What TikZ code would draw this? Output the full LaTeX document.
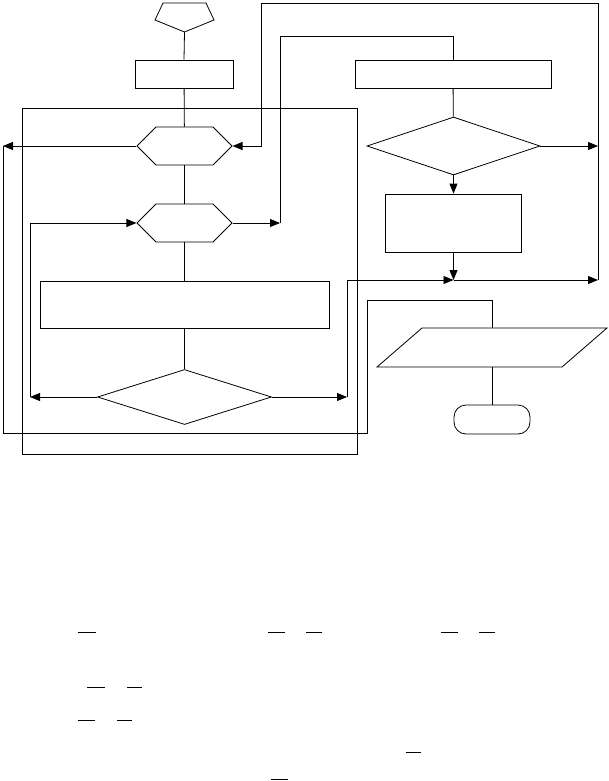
\documentclass[tikz,border=0pt]{standalone}
\usepackage{tikz}
\usetikzlibrary{arrows.meta,shapes.geometric,shapes.symbols,positioning}

\tikzset{
  box/.style={draw, rectangle, inner sep=0pt},
  hexa/.style={draw, signal, signal to=east and west, inner sep=0pt,
    minimum width=95pt, minimum height=38pt},
  dia/.style={draw, diamond, inner sep=0pt},
  term/.style={draw, rectangle, rounded corners=12pt, inner sep=0pt,
    minimum width=76pt, minimum height=29pt},
  arr/.style={-{Triangle[length=10pt,width=8pt]}}
}

\begin{document}
\begin{tikzpicture}[x=1pt,y=-1pt,line width=0.8pt]
  \useasboundingbox (0,0) rectangle (608,781);
  % start
  \draw (163,3) -- (206,3) -- (214,20) -- (184.5,32) -- (155,20) -- cycle;
  \coordinate (start) at (184.5,32);
  % left column
  \node[box, minimum width=98pt, minimum height=28pt] (b1) at (184,74) {};
  \node[hexa] (h1) at (184.5,146) {};
  \node[hexa] (h2) at (184.5,223) {};
  \node[box, minimum width=289pt, minimum height=47pt] (b4) at (184.5,304.5) {};
  \node[dia, minimum width=174pt, minimum height=55pt] (d3) at (184.5,397) {};
  \draw (22,108) rectangle (357,454);
  % right column
  \node[box, minimum width=196pt, minimum height=28pt] (b2) at (453,74) {};
  \node[dia, minimum width=173pt, minimum height=58pt] (d2) at (453.5,146) {};
  \node[box, minimum width=136pt, minimum height=58pt] (b3) at (453.5,223) {};
  \draw (422,328) -- (607,328) -- (562,367) -- (377,367) -- cycle;
  \coordinate (outN) at (492,328);
  \coordinate (outS) at (492,367);
  \node[term] (end) at (492,419.5) {};
  % turning points
  \coordinate (lp1) at (3,146);
  \coordinate (lp2) at (3,433);
  \coordinate (lp3) at (367,300);
  \coordinate (r0) at (598,146);
  \coordinate (r1) at (598,280);
  \coordinate (tl) at (261,3);
  \coordinate (m1) at (280,223);
  \coordinate (m2) at (280,36);
  \coordinate (l1) at (30,397);
  \coordinate (q1) at (347,397);
  \coordinate (jn) at (453.5,280);
  % connectors
  \draw (start) -- (b1.north);
  \draw (b1) -- (h1);
  \draw (h1) -- (h2);
  \draw (h2) -- (b4);
  \draw (b4) -- (d3);
  \draw[arr] (h1.west) -- (lp1);
  \draw (lp1) -- (lp2) -| (lp3) -| (outN);
  \draw[arr] (h2.east) -- (m1);
  \draw (m1) -- (m2) -| (b2.north);
  \draw[arr] (d3.west) -- (l1);
  \draw[arr] (l1) |- (h2.west);
  \draw[arr] (d3.east) -- (q1);
  \draw[arr] (q1) |- (jn);
  \draw (b2) -- (d2);
  \draw[arr] (d2.south) -- (b3.north);
  \draw[arr] (b3.south) -- (jn);
  \draw[arr] (d2.east) -- (r0);
  \draw[arr] (jn) -- (r1);
  \draw[arr] (r1) |- (tl) |- (h1.east);
  \draw (outS) -- (end.north);
  % bars below
  \foreach \x/\y/\l in {78/632/18, 268/632/17, 306/632/16, 441/632/17, 479/632/16,
    87/687/18, 127/687/15, 78/720/17, 117/720/15, 406/752/15, 271/779/17}
    \draw (\x,\y) -- ++(\l,0);
\end{tikzpicture}
\end{document}
